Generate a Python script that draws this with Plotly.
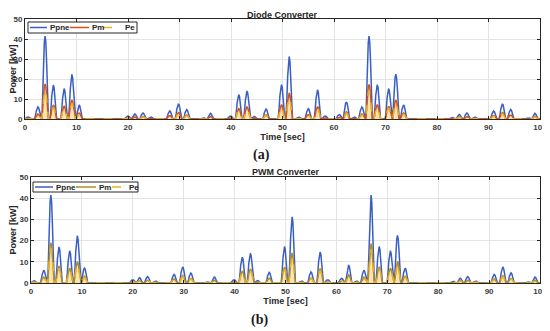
import plotly.graph_objects as go

# ---------------- data ----------------
TIME_PK = [0.6, 2.5, 3.9, 5.5, 7.6, 9.1, 10.5, 20.0, 21.3, 22.9, 24.4, 28.1, 29.8, 31.4,
           34.6, 36.0, 39.9, 41.5, 43.1, 44.5, 46.8, 49.8, 51.3, 53.1, 55.0, 56.8, 58.3,
           61.0, 62.4, 63.9, 65.4, 66.8, 68.4, 70.6, 72.0, 73.5, 82.9, 84.3, 85.8, 87.3,
           91.0, 92.7, 94.3, 97.6, 99.0]

PPNE_A = [1.0, 6.0, 41.5, 17.0, 15.2, 22.3, 7.0, 1.5, 2.5, 3.0, 1.0, 4.0, 7.6, 4.7,
          0.5, 2.8, 1.5, 12.2, 14.0, 1.2, 5.0, 17.2, 31.2, 1.0, 5.2, 14.6, 1.5,
          2.2, 8.5, 1.0, 6.0, 41.5, 17.2, 15.2, 22.4, 7.0, 0.8, 2.3, 3.0, 1.0,
          4.0, 7.6, 4.8, 0.5, 2.8]
PM_A = [0.4, 2.5, 17.5, 7.0, 6.5, 9.5, 3.0, 0.6, 1.0, 1.2, 0.4, 1.7, 3.2, 2.0,
        0.2, 1.2, 0.6, 5.2, 6.0, 0.5, 2.1, 7.2, 13.0, 0.4, 2.2, 6.2, 0.6,
        0.9, 3.6, 0.4, 2.5, 17.3, 7.2, 6.4, 9.5, 3.0, 0.3, 1.0, 1.2, 0.4,
        1.7, 3.2, 2.0, 0.2, 1.2]
PE_A = [0.3, 2.0, 14.5, 5.8, 5.3, 7.9, 2.4, 0.5, 0.8, 1.0, 0.3, 1.4, 2.6, 1.6,
        0.2, 1.0, 0.5, 4.3, 5.0, 0.4, 1.7, 6.0, 10.8, 0.3, 1.8, 5.1, 0.5,
        0.7, 3.0, 0.3, 2.0, 14.3, 6.0, 5.3, 7.9, 2.4, 0.2, 0.8, 1.0, 0.3,
        1.4, 2.6, 1.6, 0.2, 1.0]

PPNE_B = [1.0, 6.0, 41.5, 17.0, 15.2, 22.3, 7.0, 1.5, 2.5, 3.0, 1.0, 4.0, 7.6, 4.7,
          0.5, 2.8, 1.5, 12.2, 14.0, 1.2, 5.0, 17.2, 31.2, 1.0, 5.2, 14.6, 1.5,
          2.2, 8.5, 1.0, 6.0, 41.5, 17.2, 15.2, 22.4, 7.0, 0.8, 2.3, 3.0, 1.0,
          4.0, 7.6, 4.8, 0.5, 2.8]
PM_B = [0.5, 2.8, 19.0, 8.0, 7.0, 10.2, 3.2, 0.7, 1.1, 1.3, 0.5, 1.9, 3.5, 2.2,
        0.2, 1.3, 0.7, 5.7, 6.6, 0.5, 2.3, 7.5, 14.2, 0.5, 2.4, 6.8, 0.7,
        1.0, 3.9, 0.5, 2.8, 18.6, 7.6, 7.0, 10.3, 3.2, 0.4, 1.1, 1.3, 0.5,
        1.9, 3.5, 2.2, 0.2, 1.3]
PE_B = [0.4, 2.4, 16.5, 6.9, 6.0, 8.8, 2.7, 0.6, 0.9, 1.1, 0.4, 1.6, 3.0, 1.9,
        0.2, 1.1, 0.6, 4.9, 5.7, 0.4, 2.0, 6.5, 12.3, 0.4, 2.1, 5.9, 0.6,
        0.9, 3.4, 0.4, 2.4, 16.1, 6.6, 6.0, 8.9, 2.7, 0.3, 0.9, 1.1, 0.4,
        1.6, 3.0, 1.9, 0.2, 1.1]

X_TICKS = [0, 10, 20, 30, 40, 50, 60, 70, 80, 90, 100]
Y_TICKS = [0, 10, 20, 30, 40, 50]
SERIES_NAMES = ["Ppne", "Pm", "Pe"]

# ---------------- styling ----------------
PULSE_OFF = [-0.65, -0.55, -0.45, -0.3, -0.15, 0.0, 0.15, 0.3, 0.45, 0.55, 0.65]
PULSE_FRAC = [0.0, 0.12, 0.33, 0.68, 0.92, 1.0, 0.92, 0.68, 0.33, 0.12, 0.0]

# the page body keeps its default 8px margin: size the figure to the rest of the window
PAGE_OFF = 8
W, H = 550 - PAGE_OFF, 331 - PAGE_OFF
BLUE = "#3a5fc4"
ORANGE = "#D95319"
OLIVE = "#b08d2a"
YELLOW = "#EDB120"


def px(x):
    return (x - PAGE_OFF) / W


def py(y):
    return 1 - (y - PAGE_OFF) / H


def pulse_curve(times, peaks):
    xs, ys = [0.0], [0.0]
    for c, v in zip(times, peaks):
        for o, f in zip(PULSE_OFF, PULSE_FRAC):
            xs.append(c + o)
            ys.append(v * f)
    xs.append(100.0)
    ys.append(0.0)
    return xs, ys


fig = go.Figure()

panels = [
    dict(ppne=PPNE_A, pm=PM_A, pe=PE_A, pmcol=ORANGE, xa="x", ya="y"),
    dict(ppne=PPNE_B, pm=PM_B, pe=PE_B, pmcol=OLIVE, xa="x2", ya="y2"),
]
for p in panels:
    x, y = pulse_curve(TIME_PK, p["ppne"])
    fig.add_trace(go.Scatter(x=x, y=y, mode="lines", name=SERIES_NAMES[0],
                             line=dict(color=BLUE, width=1.5),
                             xaxis=p["xa"], yaxis=p["ya"], showlegend=False))
    x, y = pulse_curve(TIME_PK, p["pm"])
    fig.add_trace(go.Scatter(x=x, y=y, mode="lines", name=SERIES_NAMES[1],
                             line=dict(color=p["pmcol"], width=1.5),
                             fill="tozeroy", fillcolor="rgba(237,177,32,0.35)",
                             xaxis=p["xa"], yaxis=p["ya"], showlegend=False))
    x, y = pulse_curve(TIME_PK, p["pe"])
    fig.add_trace(go.Scatter(x=x, y=y, mode="lines", name=SERIES_NAMES[2],
                             line=dict(color=YELLOW, width=1.5, dash="dash"),
                             xaxis=p["xa"], yaxis=p["ya"], showlegend=False))

TICKFONT = dict(family="Liberation Sans", size=8, color="#3c3c3c", weight="bold")
TITLEFONT = dict(family="Liberation Sans", size=9, color="#262626", weight="bold")

ax_common = dict(showgrid=True, gridcolor="#e3e3e3", gridwidth=1, zeroline=False,
                 showline=True, linecolor="#262626", linewidth=1, mirror="ticks",
                 ticks="inside", ticklen=3, tickcolor="#262626", tickfont=TICKFONT,
                 ticklabeloverflow="allow", automargin=False)

fig.update_layout(
    width=W, height=H, margin=dict(l=0, r=0, t=0, b=0, autoexpand=False),
    paper_bgcolor="white", plot_bgcolor="white", showlegend=False,
    xaxis=dict(domain=[px(25), px(540)], range=[0, 100], tickvals=X_TICKS, anchor="y",
               title=dict(text="Time [sec]", font=TITLEFONT, standoff=3), **ax_common),
    yaxis=dict(domain=[py(119), py(19)], range=[0, 50], tickvals=Y_TICKS, anchor="x",
               title=dict(text="Power [kW]", font=TITLEFONT, standoff=3), **ax_common),
    xaxis2=dict(domain=[px(31), px(540)], range=[0, 100], tickvals=X_TICKS, anchor="y2",
                title=dict(text="Time [sec]", font=TITLEFONT, standoff=3), **ax_common),
    yaxis2=dict(domain=[py(283), py(177)], range=[0, 50], tickvals=Y_TICKS, anchor="x2",
                title=dict(text="Power [kW]", font=TITLEFONT, standoff=3), **ax_common),
)

ann = []
shapes = []
ann.append(dict(text="Diode Converter", x=px(282.5), y=py(8), xref="paper", yref="paper",
                showarrow=False, font=TITLEFONT, xanchor="center", yanchor="top"))
ann.append(dict(text="PWM Converter", x=px(285.5), y=py(172), xref="paper", yref="paper",
                showarrow=False, font=TITLEFONT, xanchor="center", yanchor="middle"))
SERIF = dict(family="Liberation Serif", size=14, color="#1a1a1a", weight="bold")
ann.append(dict(text="(a)", x=px(261), y=py(155), xref="paper", yref="paper",
                showarrow=False, font=SERIF, xanchor="center", yanchor="middle"))
ann.append(dict(text="(b)", x=px(259), y=py(320), xref="paper", yref="paper",
                showarrow=False, font=SERIF, xanchor="center", yanchor="middle"))

# custom compact legends (MATLAB style)
LEGFONT = dict(family="Liberation Sans", size=8, color="#262626", weight="bold")
legends = [
    dict(box=(28, 22, 137, 33), pmcol=ORANGE,
         items=[(30, 47, 48), (70, 89, 90), (103, 119, 123)]),
    dict(box=(33, 182, 138, 192), pmcol=OLIVE,
         items=[(35, 53, 54), (76, 96, 97), (112, 125, 127)]),
]
for lg in legends:
    x0, y0, x1, y1 = lg["box"]
    shapes.append(dict(type="rect", xref="paper", yref="paper", x0=px(x0), x1=px(x1),
                       y0=py(y1), y1=py(y0), line=dict(color="#262626", width=1),
                       fillcolor="white", layer="above"))
    yc = (y0 + y1) / 2
    cols = [BLUE, lg["pmcol"], YELLOW]
    dashes = ["solid", "solid", "dash"]
    for (lx0, lx1, tx), name, col, dsh in zip(lg["items"], SERIES_NAMES, cols, dashes):
        shapes.append(dict(type="line", xref="paper", yref="paper", x0=px(lx0), x1=px(lx1),
                           y0=py(yc), y1=py(yc), line=dict(color=col, width=1.5, dash=dsh),
                           layer="above"))
        ann.append(dict(text=name, x=px(tx), y=py(yc), xref="paper", yref="paper",
                        showarrow=False, font=LEGFONT, xanchor="left", yanchor="middle"))

fig.update_layout(annotations=ann, shapes=shapes)
fig.write_html("out.html")
